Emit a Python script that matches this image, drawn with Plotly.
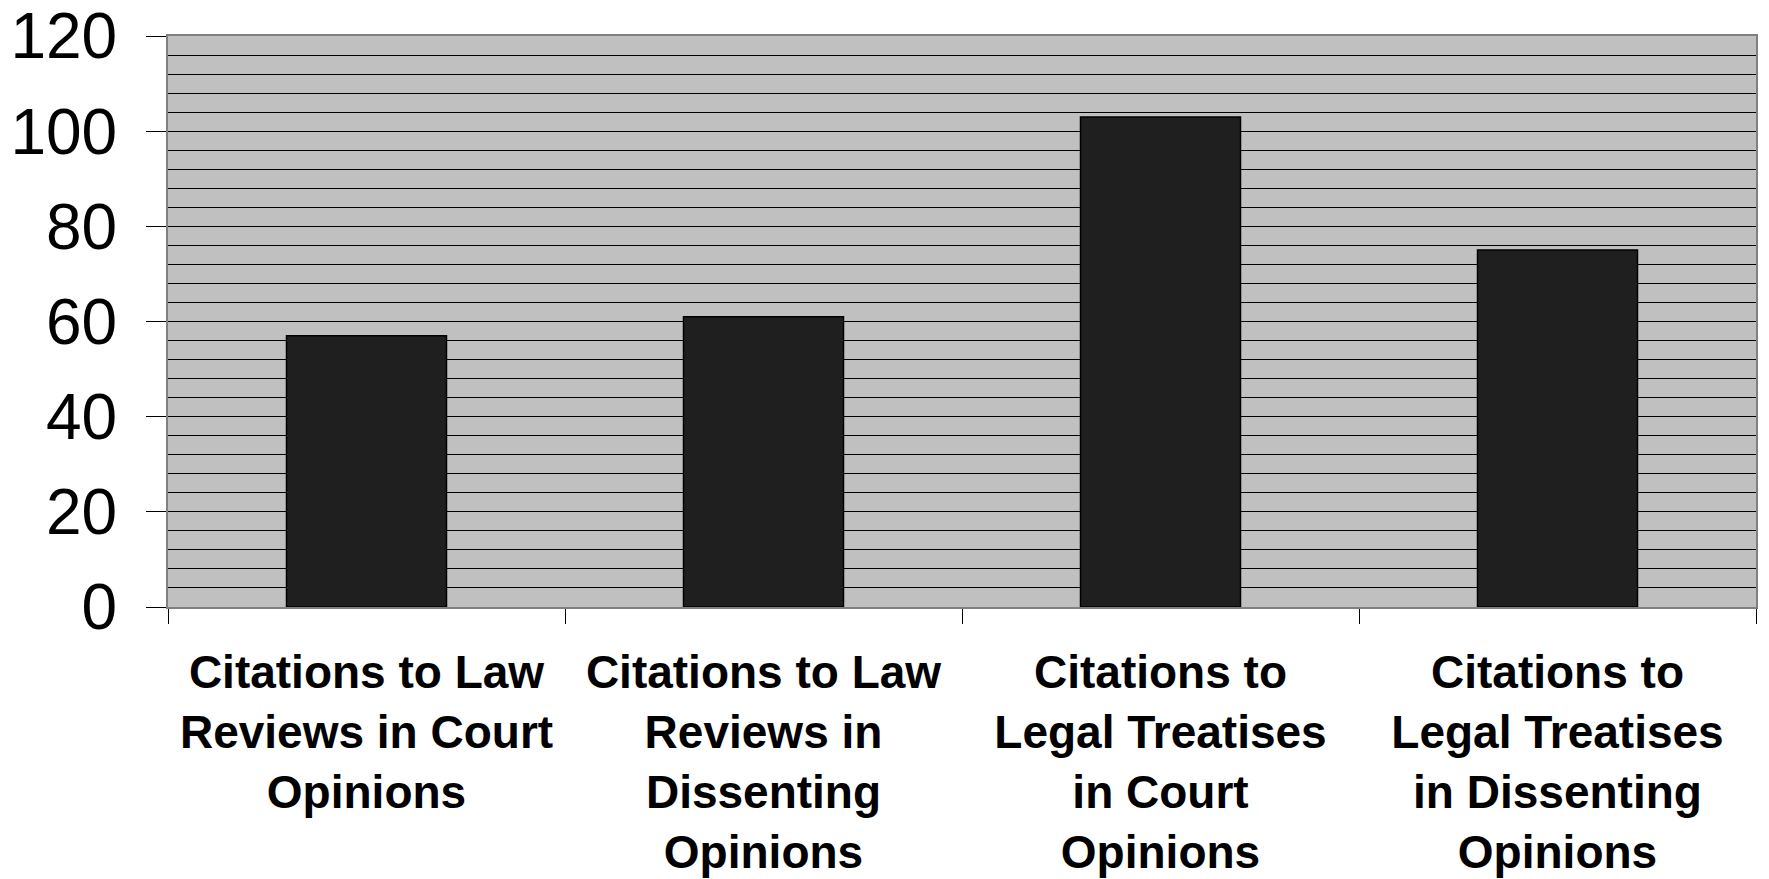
import plotly.graph_objects as go

categories = [
    "Citations to Law<br>Reviews in Court<br>Opinions",
    "Citations to Law<br>Reviews in<br>Dissenting<br>Opinions",
    "Citations to<br>Legal Treatises<br>in Court<br>Opinions",
    "Citations to<br>Legal Treatises<br>in Dissenting<br>Opinions",
]
values = [57, 61, 103, 75]
y_ticks = [0, 20, 40, 60, 80, 100, 120]

fig = go.Figure()
fig.add_trace(go.Bar(
    x=categories, y=values,
    marker=dict(color="#1f1f1f", line=dict(color="black", width=1.5)),
    hoverinfo="x+y",
))

font_family = "Arial, Liberation Sans, sans-serif"
fig.update_layout(
    width=1769, height=879,
    margin=dict(l=168, r=13, t=36, b=272),
    paper_bgcolor="white",
    plot_bgcolor="#c0c0c0",
    bargap=0.597,
    showlegend=False,
    font=dict(family=font_family, color="black"),
    xaxis=dict(
        type="category",
        automargin=False,
        tickson="boundaries",
        ticks="outside", ticklen=15, tickwidth=1, tickcolor="black",
        tickfont=dict(family=font_family, size=46, color="black", weight="bold"),
        ticklabelstandoff=24,
        showline=True, linecolor="#808080", linewidth=2, mirror=True,
        showgrid=False,
    ),
    yaxis=dict(
        range=[0, 120],
        automargin=False,
        tickvals=y_ticks,
        ticks="outside", ticklen=20, tickwidth=1, tickcolor="black",
        tickfont=dict(family=font_family, size=64, color="black"),
        ticklabelstandoff=16,
        showline=True, linecolor="#808080", linewidth=2, mirror=True,
        showgrid=True, gridcolor="black", gridwidth=1,
        zeroline=False,
        minor=dict(dtick=4, showgrid=True, gridcolor="black", gridwidth=1, ticks=""),
    ),
)

fig.write_html(
    "out.html",
    config={"displayModeBar": False},
    post_script="document.body.style.margin='0';document.body.style.overflow='hidden';",
)
